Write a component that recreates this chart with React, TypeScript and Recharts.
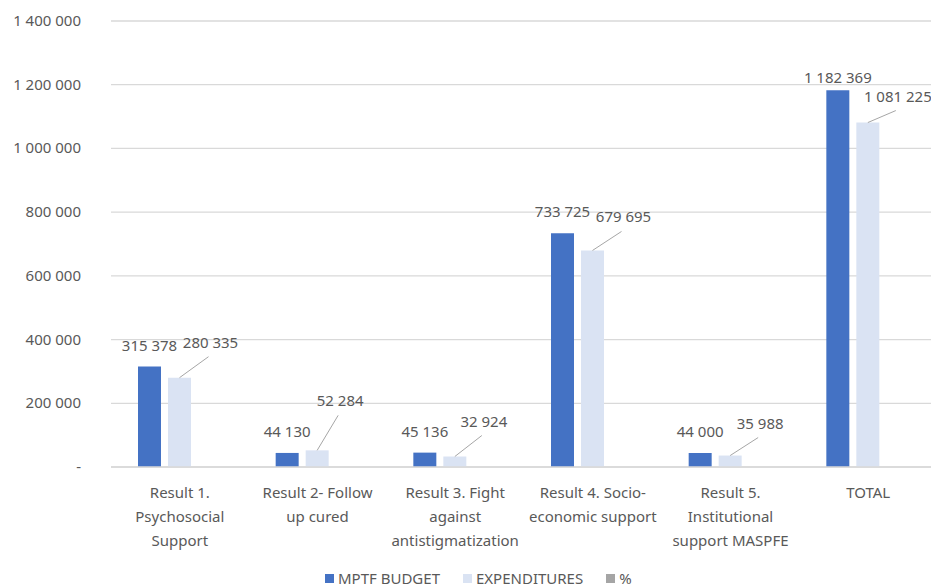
import React from 'react';
import { BarChart, Bar, XAxis, YAxis, CartesianGrid, LabelList } from 'recharts';

const categories = [
  'Result 1.\nPsychosocial\nSupport',
  'Result 2- Follow\nup cured',
  'Result 3. Fight\nagainst\nantistigmatization',
  'Result 4. Socio-\neconomic support',
  'Result 5.\nInstitutional\nsupport MASPFE',
  'TOTAL',
];
const budget = [315378, 44130, 45136, 733725, 44000, 1182369];
const expenditures = [280335, 52284, 32924, 679695, 35988, 1081225];
const percent = [0.89, 1.18, 0.73, 0.93, 0.82, 0.91];
const yTicks = [0, 200000, 400000, 600000, 800000, 1000000, 1200000, 1400000];

// where Excel put the expenditure labels, relative to the bar top
const expLabelNudge = [
  [31, -35],
  [23, -49],
  [29, -35],
  [31, -33],
  [30, -32],
  [30, -26],
];

const BLUE = '#4472C4';
const LIGHT = '#DAE3F3';
const GREY = '#A5A5A5';
const TEXT = '#595959';
const FONT = '"Noto Sans", sans-serif';

const fmt = (n: number) => (n === 0 ? '-' : String(n).replace(/\B(?=(\d{3})+(?!\d))/g, ' '));

const data = categories.map((name, i) => ({
  name,
  budget: budget[i],
  expenditures: expenditures[i],
  percent: percent[i],
}));

const YTick = (props: any) => {
  const { y, payload } = props;
  return (
    <text x={81} y={y + 5} textAnchor="end" fill={TEXT} fontSize={15} fontFamily={FONT}>
      {fmt(payload.value)}
    </text>
  );
};

const XTick = (props: any) => {
  const { x, y, payload } = props;
  const lines = String(payload.value).split('\n');
  return (
    <text x={x} y={y} textAnchor="middle" fill={TEXT} fontSize={15} fontFamily={FONT}>
      {lines.map((l, i) => (
        <tspan key={i} x={x} y={y + 23 + i * 24}>
          {l}
        </tspan>
      ))}
    </text>
  );
};

const BudgetLabel = (props: any) => {
  const { x, y, width, value } = props;
  const cy = Math.max(y - 21, 78);
  return (
    <text x={x + width / 2} y={cy + 5} textAnchor="middle" fill={TEXT} fontSize={15} fontFamily={FONT}>
      {fmt(value)}
    </text>
  );
};

const ExpLabel = (props: any) => {
  const { x, y, width, value, index } = props;
  const cx = x + width / 2;
  const [dx, dy] = expLabelNudge[index] || [30, -34];
  const lx = cx + dx;
  const ly = y + dy;
  return (
    <g>
      <line x1={cx} y1={y} x2={lx - 2} y2={ly + 14} stroke="#A6A6A6" strokeWidth={1} />
      <text x={lx} y={ly + 5} textAnchor="middle" fill={TEXT} fontSize={15} fontFamily={FONT}>
        {fmt(value)}
      </text>
    </g>
  );
};

const legendItems = [
  { label: 'MPTF BUDGET', color: BLUE },
  { label: 'EXPENDITURES', color: LIGHT },
  { label: '%', color: GREY },
];

export default function App() {
  return (
    <div style={{ position: 'fixed', top: 0, left: 0, width: 931, height: 588, overflow: 'hidden', background: '#fff' }}>
      <BarChart
        width={950}
        height={588}
        data={data}
        margin={{ top: 21, right: 13, bottom: 0, left: 0 }}
        barSize={23}
        barGap={7}
      >
        <CartesianGrid vertical={false} stroke="#D9D9D9" strokeWidth={1.3} />
        <XAxis
          dataKey="name"
          height={121}
          axisLine={{ stroke: '#D9D9D9', strokeWidth: 1.3 }}
          tickLine={false}
          interval={0}
          tick={<XTick />}
        />
        <YAxis
          width={111}
          domain={[0, 1400000]}
          ticks={yTicks}
          axisLine={false}
          tickLine={false}
          tick={<YTick />}
        />
        <Bar dataKey="budget" fill={BLUE} isAnimationActive={false}>
          <LabelList dataKey="budget" content={<BudgetLabel />} />
        </Bar>
        <Bar dataKey="expenditures" fill={LIGHT} isAnimationActive={false}>
          <LabelList dataKey="expenditures" content={<ExpLabel />} />
        </Bar>
        <Bar dataKey="percent" fill={GREY} isAnimationActive={false} />
      </BarChart>
      <div
        style={{
          position: 'absolute',
          left: 325,
          top: 569,
          display: 'flex',
          alignItems: 'center',
          fontFamily: FONT,
          fontSize: 15,
          color: TEXT,
          lineHeight: '18px',
          whiteSpace: 'nowrap',
        }}
      >
        {legendItems.map((it, i) => (
          <div key={it.label} style={{ display: 'flex', alignItems: 'center', marginLeft: i === 0 ? 0 : 23 }}>
            <span style={{ display: 'inline-block', width: 9, height: 9, background: it.color, marginRight: 4 }} />
            <span>{it.label}</span>
          </div>
        ))}
      </div>
    </div>
  );
}
